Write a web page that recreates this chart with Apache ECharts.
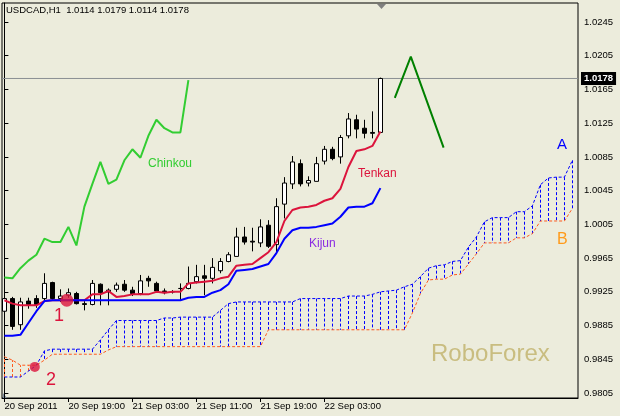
<!DOCTYPE html>
<html><head><meta charset="utf-8">
<script src="https://cdn.jsdelivr.net/npm/echarts@6/dist/echarts.min.js"></script>
<style>html,body{margin:0;padding:0;background:#ececdc}#c{width:620px;height:416px}</style>
</head><body><div id="c"></div>
<script>
// ---- data (bar index 0 = 20 Sep 11:00, H1) ----
const opens  = [0.9902,0.9917,0.9886,0.9914,0.9917,0.9917,0.9936,0.9917,0.9921,0.9923,0.9911,0.9910,0.9934,0.9925,0.9928,0.9934,0.9927,0.9923,0.9941,0.9935,0.9926,0.9925,0.9929,0.9929,0.9937,0.9944,0.9941,0.9950,0.9961,0.9967,0.9990,0.9985,0.9983,1.0004,0.9981,1.0029,1.0053,1.0077,1.0054,1.0056,1.0080,1.0094,1.0085,1.0110,1.0129,1.0119,1.0114,1.0114];
const closes = [0.9917,0.9884,0.9913,0.9910,0.9910,0.9935,0.9917,0.9920,0.9924,0.9911,0.9910,0.9935,0.9924,0.9927,0.9933,0.9927,0.9923,0.9938,0.9938,0.9926,0.9924,0.9925,0.9929,0.9935,0.9943,0.9941,0.9954,0.9961,0.9969,0.9990,0.9984,0.9984,1.0002,0.9979,1.0026,1.0054,1.0079,1.0053,1.0057,1.0077,1.0094,1.0083,1.0108,1.0130,1.0118,1.0113,1.0113,1.0178];
const lows   = [0.9892,0.9880,0.9880,0.9905,0.9906,0.9915,0.9915,0.9913,0.9918,0.9910,0.9903,0.9909,0.9909,0.9909,0.9925,0.9925,0.9920,0.9921,0.9931,0.9925,0.9922,0.9923,0.9915,0.9928,0.9935,0.9921,0.9935,0.9947,0.9960,0.9967,0.9981,0.9973,0.9978,0.9977,0.9971,1.0012,1.0047,1.0050,1.0050,1.0056,1.0076,1.0081,1.0077,1.0107,1.0107,1.0107,1.0107,1.0114];
const highs  = [0.9920,0.9919,0.9918,0.9918,0.9921,0.9947,0.9937,0.9928,0.9929,0.9925,0.9914,0.9939,0.9935,0.9929,0.9936,0.9939,0.9931,0.9945,0.9944,0.9937,0.9929,0.9927,0.9935,0.9955,0.9957,0.9957,0.9965,0.9965,0.9972,1.0001,1.0002,1.0001,1.0011,1.0010,1.0036,1.0061,1.0086,1.0082,1.0062,1.0085,1.0098,1.0097,1.0111,1.0137,1.0135,1.0129,1.0139,1.0179];
const tenkan = [0.9915,0.9911,0.9909,0.9909,0.9909,0.9914,0.9915,0.9915,0.9915,0.9915,0.9915,0.9922,0.9922,0.9926,0.9919,0.9920,0.9922,0.9922,0.9922,0.9925,0.9924,0.9925,0.9925,0.9935,0.9936,0.9937,0.9938,0.9941,0.9943,0.9956,0.9957,0.9958,0.9965,0.9972,0.9984,1.0009,1.0022,1.0025,1.0026,1.0028,1.0033,1.0036,1.0047,1.0073,1.0092,1.0094,1.0098,1.0115];
const kijun  = [0.9873,0.9873,0.9874,0.9888,0.9902,0.9914,0.9915,0.9915,0.9915,0.9915,0.9915,0.9915,0.9915,0.9915,0.9915,0.9915,0.9915,0.9915,0.9915,0.9915,0.9915,0.9915,0.9915,0.9918,0.9919,0.9919,0.9924,0.9927,0.9934,0.9950,0.9951,0.9952,0.9955,0.9958,0.9971,0.9988,0.9998,1.0001,1.0001,1.0002,1.0004,1.0006,1.0014,1.0025,1.0026,1.0026,1.0030,1.0048];
const chinkou = [0.9942,0.9941,0.9953,0.9962,0.9969,0.9988,0.9984,0.9984,1.0002,0.9980,1.0026,1.0053,1.0079,1.0053,1.0058,1.0081,1.0094,1.0084,1.0110,1.0129,1.0119,1.0114,1.0114,1.0176];
const senkouA = [0.9824,0.9824,0.9824,0.9831,0.9838,0.9855,0.9857,0.9857,0.9857,0.9857,0.9857,0.9857,0.9868,0.9880,0.9891,0.9891,0.9891,0.9891,0.9891,0.9891,0.9894,0.9894,0.9895,0.9895,0.9895,0.9895,0.9895,0.9903,0.9911,0.9913,0.9913,0.9913,0.9913,0.9913,0.9913,0.9913,0.9913,0.9917,0.9917,0.9917,0.9917,0.9917,0.9917,0.9920,0.9920,0.9920,0.9922,0.9925,0.9926,0.9927,0.9931,0.9934,0.9943,0.9953,0.9956,0.9957,0.9961,0.9962,0.9978,0.9990,1.0008,1.0013,1.0013,1.0013,1.0020,1.0020,1.0027,1.0052,1.0060,1.0061,1.0061,1.0081];
const senkouB = [0.9848,0.9844,0.9838,0.9838,0.9838,0.9844,0.9851,0.9851,0.9851,0.9851,0.9851,0.9851,0.9851,0.9856,0.9860,0.9860,0.9860,0.9860,0.9860,0.9860,0.9860,0.9860,0.9860,0.9860,0.9860,0.9860,0.9860,0.9860,0.9860,0.9860,0.9860,0.9860,0.9860,0.9880,0.9880,0.9880,0.9880,0.9880,0.9880,0.9880,0.9880,0.9880,0.9880,0.9880,0.9880,0.9880,0.9880,0.9880,0.9880,0.9880,0.9880,0.9900,0.9923,0.9939,0.9940,0.9940,0.9945,0.9946,0.9958,0.9970,0.9983,0.9983,0.9983,0.9983,0.9989,0.9989,0.9994,1.0009,1.0009,1.0009,1.0009,1.0024];
const forecastBars = [48.8, 50.8, 54.9];
const forecastPrices = [1.0155, 1.0204, 1.0096];
const crossBars = [7.8, 3.8];
const crossPrices = [0.9915, 0.9836];
const crossSizes = [13, 10];
const lastPrice = 1.0178;
const xTickBars = [0, 8, 16, 24, 32, 40];
const xTickLabels = ['20 Sep 2011','20 Sep 19:00','21 Sep 03:00','21 Sep 11:00','21 Sep 19:00','22 Sep 03:00'];
const yTickValues = [0.9805,0.9845,0.9885,0.9925,0.9965,1.0005,1.0045,1.0085,1.0125,1.0165,1.0205,1.0245];
const headerText = 'USDCAD,H1  1.0114 1.0179 1.0114 1.0178';

const FONT = 'Liberation Sans';
const X_MIN = -0.3, X_MAX = 71.7;
const pairs = arr => arr.map((v, i) => [i, v]);

const chart = echarts.init(document.getElementById('c'), null, {renderer: 'canvas'});
chart.setOption({
  animation: false,
  backgroundColor: '#ececdc',
  textStyle: {fontFamily: FONT},
  grid: {left: 2, right: 42, top: 3, bottom: 18, show: true, borderColor: '#000', borderWidth: 1, backgroundColor: 'transparent', containLabel: false, outerBoundsMode: 'none'},
  xAxis: {
    type: 'value', min: X_MIN, max: X_MAX, splitLine: {show: false},
    axisLine: {show: true, onZero: false, lineStyle: {color: '#000', width: 1}},
    axisTick: {show: true, length: 4, customValues: xTickBars, lineStyle: {color: '#000'}},
    axisLabel: {customValues: xTickBars, formatter: v => { const k = xTickBars.indexOf(v); return k >= 0 ? xTickLabels[k] : ''; },
      align: 'left', margin: 3, color: '#000', fontSize: 9.5, fontFamily: FONT, showMinLabel: true, showMaxLabel: true}
  },
  yAxis: {
    type: 'value', position: 'right', min: 0.97991, max: 1.02675, scale: true, splitLine: {show: false},
    axisLine: {show: true, lineStyle: {color: '#000', width: 1}},
    axisTick: {show: true, length: 4, customValues: yTickValues, lineStyle: {color: '#000'}},
    axisLabel: {customValues: yTickValues, formatter: v => v.toFixed(4), margin: 6, color: '#000', fontSize: 9.5, fontFamily: FONT}
  },
  series: [
    {
      type: 'custom', z: 1, silent: true,
      encode: {x: 0, y: [1, 2]},
      data: senkouA.map((a, i) => [i, a, senkouB[i]]),
      renderItem: (params, api) => {
        const i = api.value(0), a = api.value(1), b = api.value(2);
        const p1 = api.coord([i, a]), p2 = api.coord([i, b]);
        const x = Math.round(p1[0]) + 0.5;
        return {type: 'line', shape: {x1: x, y1: p1[1], x2: x, y2: p2[1]},
          style: {stroke: a >= b ? '#0000ff' : '#ff5a1e', lineWidth: 1, lineDash: [3, 2]}};
      }
    },
    {type: 'line', z: 2, silent: true, symbol: 'none', data: pairs(senkouA), lineStyle: {color: '#0000ff', width: 1, type: [3, 2]}},
    {type: 'line', z: 2, silent: true, symbol: 'none', data: pairs(senkouB), lineStyle: {color: '#ff5a1e', width: 1, type: [3, 2]}},
    {type: 'line', z: 2, silent: true, symbol: 'none', data: [[X_MIN, lastPrice], [X_MAX, lastPrice]],
      lineStyle: {color: '#8a8f94', width: 1},
      endLabel: {show: true, distance: 3, formatter: () => lastPrice.toFixed(4), backgroundColor: '#000', color: '#fff',
        padding: [2, 3, 1, 3], fontSize: 9.5, fontFamily: FONT, fontWeight: 'bold'}},
    {
      type: 'candlestick', z: 3, barWidth: 5,
      data: opens.map((o, i) => [i, o, closes[i], lows[i], highs[i]]),
      itemStyle: {color: '#ffffff', color0: '#000000', borderColor: '#000000', borderColor0: '#000000', borderColorDoji: '#000000', borderWidth: 1}
    },
    {type: 'line', z: 4, silent: true, symbol: 'none', data: pairs(tenkan), lineStyle: {color: '#dc143c', width: 2}},
    {type: 'line', z: 4, silent: true, symbol: 'none', data: pairs(kijun), lineStyle: {color: '#0000ff', width: 2}},
    {type: 'line', z: 4, silent: true, symbol: 'none', data: pairs(chinkou), lineStyle: {color: '#32cd32', width: 2}},
    {type: 'line', z: 5, silent: true, symbol: 'none', data: forecastBars.map((b, i) => [b, forecastPrices[i]]), lineStyle: {color: '#008000', width: 2}},
    {type: 'scatter', z: 6, silent: true, symbol: 'circle',
      data: crossBars.map((b, i) => ({value: [b, crossPrices[i]], symbolSize: crossSizes[i]})),
      itemStyle: {color: '#dc143c'}}
  ],
  graphic: [
    {type: 'text', left: 6, top: 5, silent: true, style: {text: headerText, fill: '#000', font: '9.5px "Liberation Sans"'}},
    {type: 'polygon', silent: true, shape: {points: [[377, 4], [386, 4], [381.5, 9]]}, style: {fill: '#808080'}},
    {type: 'polygon', silent: true, shape: {points: [[3, 393], [3, 398], [7, 398]]}, style: {fill: '#8090a0'}},
    {type: 'text', left: 148, top: 158, silent: true, style: {text: 'Chinkou', fill: '#32cd32', font: '12px "Liberation Sans"'}},
    {type: 'text', left: 358, top: 168, silent: true, style: {text: 'Tenkan', fill: '#dc143c', font: '12px "Liberation Sans"'}},
    {type: 'text', left: 309, top: 238, silent: true, style: {text: 'Kijun', fill: '#8a2be2', font: '12px "Liberation Sans"'}},
    {type: 'text', left: 557, top: 137, silent: true, style: {text: 'A', fill: '#0000ff', font: '15px "Liberation Sans"'}},
    {type: 'text', left: 557, top: 232, silent: true, style: {text: 'B', fill: '#ff9a1a', font: '16px "Liberation Sans"'}},
    {type: 'text', left: 54, top: 307, silent: true, style: {text: '1', fill: '#dc143c', font: '18px "Liberation Sans"'}},
    {type: 'text', left: 46, top: 371, silent: true, style: {text: '2', fill: '#dc143c', font: '18px "Liberation Sans"'}},
    {type: 'text', left: 431, top: 342, silent: true, style: {text: 'RoboForex', fill: '#c9bd80', font: '24px "Liberation Sans"'}}
  ]
});
</script></body></html>
